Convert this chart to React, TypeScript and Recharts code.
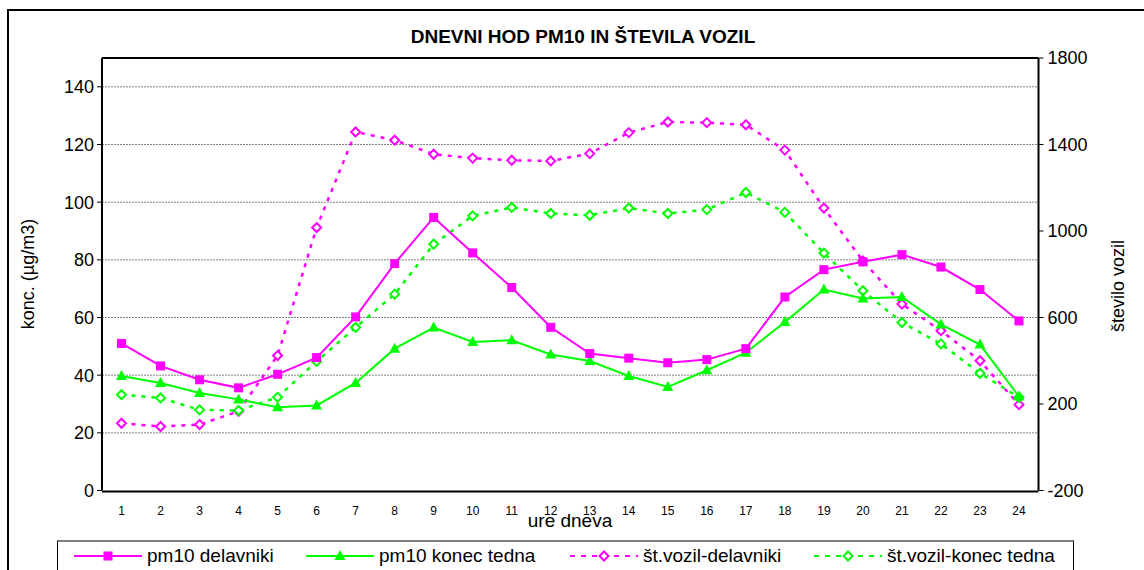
import { LineChart, Line, XAxis, YAxis, CartesianGrid } from "recharts";

const hours = [1, 2, 3, 4, 5, 6, 7, 8, 9, 10, 11, 12, 13, 14, 15, 16, 17, 18, 19, 20, 21, 22, 23, 24];
const pm10Workdays = [51, 43.2, 38.4, 35.6, 40.3, 46.1, 60.2, 78.7, 94.7, 82.4, 70.4, 56.6, 47.5, 45.9, 44.3, 45.4, 49.2, 67.1, 76.6, 79.3, 81.8, 77.5, 69.7, 58.8];
const pm10Weekend = [39.7, 37.3, 33.8, 31.6, 28.9, 29.5, 37.3, 49.2, 56.5, 51.5, 52.1, 47.2, 44.9, 39.7, 35.9, 41.7, 47.8, 58.4, 69.7, 66.6, 67.1, 57.6, 50.6, 32.6];
const carsWorkdays = [111, 96, 105, 166, 424, 1016, 1458, 1420, 1355, 1337, 1327, 1324, 1358, 1455, 1504, 1501, 1491, 1374, 1106, 862, 662, 539, 400, 197];
const carsWeekend = [243, 228, 173, 170, 231, 397, 554, 708, 939, 1070, 1109, 1081, 1073, 1106, 1081, 1099, 1178, 1086, 898, 724, 577, 478, 342, 231];

const leftTicks = [0, 20, 40, 60, 80, 100, 120, 140];
const rightTicks = [-200, 200, 600, 1000, 1400, 1800];
const boundaryTicks = [0.5, ...hours.map((h) => h + 0.5)];

const MAGENTA = "#ff00ff";
const GREEN = "#00ff00";
const FONT = "'Liberation Sans', Arial, sans-serif";

const data = hours.map((h, i) => ({
  hour: h,
  pm10Workdays: pm10Workdays[i],
  pm10Weekend: pm10Weekend[i],
  carsWorkdays: carsWorkdays[i],
  carsWeekend: carsWeekend[i],
}));

const squareDot = (p: any) => (
  <rect key={`sq-${p.index}`} x={p.cx - 4.5} y={p.cy - 4.5} width={9} height={9} fill={MAGENTA} />
);
const triangleDot = (p: any) => (
  <polygon key={`tr-${p.index}`} points={`${p.cx},${p.cy - 6} ${p.cx + 5.5},${p.cy + 4} ${p.cx - 5.5},${p.cy + 4}`} fill={GREEN} />
);
const diamondDot = (color: string) => (p: any) => (
  <polygon key={`dm-${color}-${p.index}`} points={`${p.cx},${p.cy - 4.5} ${p.cx + 4.5},${p.cy} ${p.cx},${p.cy + 4.5} ${p.cx - 4.5},${p.cy}`}
    fill="#fff" stroke={color} strokeWidth={2} />
);

function LegendIcon({ color, dashed, marker }: { color: string; dashed?: boolean; marker: string }) {
  return (
    <svg width={70} height={14} style={{ display: "block" }}>
      <line x1={1} y1={7} x2={69} y2={7} stroke={color} strokeWidth={2} strokeDasharray={dashed ? "5 6" : undefined} />
      {marker === "square" && <rect x={30.5} y={2.5} width={9} height={9} fill={color} />}
      {marker === "triangle" && <polygon points="35,1 40.5,11 29.5,11" fill={color} />}
      {marker === "diamond" && <polygon points="35,2.5 39.5,7 35,11.5 30.5,7" fill="#fff" stroke={color} strokeWidth={2} />}
    </svg>
  );
}

const legendItems = [
  { label: "pm10 delavniki", color: MAGENTA, marker: "square", left: 15 },
  { label: "pm10 konec tedna", color: GREEN, marker: "triangle", left: 247 },
  { label: "št.vozil-delavniki", color: MAGENTA, marker: "diamond", dashed: true, left: 511 },
  { label: "št.vozil-konec tedna", color: GREEN, marker: "diamond", dashed: true, left: 755 },
];

export default function App() {
  return (
    <div style={{ position: "absolute", left: 0, top: 0, width: 1144, height: 570, overflow: "hidden", background: "#fff", fontFamily: FONT }}>
      <div style={{ position: "absolute", left: 7, top: 9, width: 1200, height: 620, border: "2px solid #000" }} />
      <div style={{ position: "absolute", left: 0, top: 26, width: 1166, textAlign: "center", fontSize: 19, fontWeight: "bold" }}>
        DNEVNI HOD PM10 IN ŠTEVILA VOZIL
      </div>

      <div style={{ position: "absolute", left: 0, top: 0 }}>
        <LineChart width={1144} height={570} data={data} margin={{ top: 57, right: 25.5, bottom: 77.5, left: 32 }}>
          <CartesianGrid yAxisId="left" xAxisId="hours" vertical={false} horizontalValues={leftTicks.filter((t) => t > 0)}
            stroke="#808080" strokeDasharray="2 1" />
          <XAxis xAxisId="top" orientation="top" type="number" dataKey="hour" domain={[0.5, 24.5]} height={1}
            tick={false} tickLine={false} axisLine={{ stroke: "#000", strokeWidth: 2 }} />
          <XAxis xAxisId="hours" type="number" dataKey="hour" domain={[0.5, 24.5]} ticks={hours} height={1} interval={0}
            tickLine={false} tickSize={0} tickMargin={15} axisLine={{ stroke: "#000", strokeWidth: 2 }}
            tick={{ fontSize: 12, fill: "#000", fontFamily: FONT }} />
          <XAxis xAxisId="bounds" type="number" dataKey="hour" domain={[0.5, 24.5]} ticks={boundaryTicks} height={1}
            tick={false} tickSize={5} tickLine={{ stroke: "#000" }} axisLine={false} interval={0} />
          <YAxis yAxisId="left" domain={[0, 150]} ticks={leftTicks} width={70} interval={0}
            tickSize={5} tickMargin={3} axisLine={{ stroke: "#000", strokeWidth: 2 }} tickLine={{ stroke: "#000" }}
            tick={{ fontSize: 18, fill: "#000", fontFamily: FONT }} />
          <YAxis yAxisId="right" orientation="right" domain={[-200, 1800]} ticks={rightTicks} width={80} interval={0}
            tickSize={5} tickMargin={4} axisLine={{ stroke: "#000", strokeWidth: 2 }} tickLine={{ stroke: "#000" }}
            tick={{ fontSize: 18, fill: "#000", fontFamily: FONT }} />
          <Line xAxisId="hours" yAxisId="right" dataKey="carsWorkdays" stroke={MAGENTA} strokeWidth={2.5} strokeDasharray="4 6"
            dot={diamondDot(MAGENTA)} isAnimationActive={false} />
          <Line xAxisId="hours" yAxisId="right" dataKey="carsWeekend" stroke={GREEN} strokeWidth={2.5} strokeDasharray="4 6"
            dot={diamondDot(GREEN)} isAnimationActive={false} />
          <Line xAxisId="hours" yAxisId="left" dataKey="pm10Weekend" stroke={GREEN} strokeWidth={2}
            dot={triangleDot} isAnimationActive={false} />
          <Line xAxisId="hours" yAxisId="left" dataKey="pm10Workdays" stroke={MAGENTA} strokeWidth={2}
            dot={squareDot} isAnimationActive={false} />
        </LineChart>
      </div>

      <div style={{ position: "absolute", left: 28, top: 274, transform: "translate(-50%, -50%) rotate(-90deg)", fontSize: 18, whiteSpace: "nowrap" }}>
        konc. (µg/m3)
      </div>
      <div style={{ position: "absolute", left: 1118, top: 286, transform: "translate(-50%, -50%) rotate(-90deg)", fontSize: 18, whiteSpace: "nowrap" }}>
        število vozil
      </div>
      <div style={{ position: "absolute", left: 570, top: 521, transform: "translate(-50%, -50%)", fontSize: 19, whiteSpace: "nowrap" }}>
        ure dneva
      </div>

      <div style={{ position: "absolute", left: 57, top: 540, width: 1015, height: 28, border: "1px solid #000", borderTop: "2px solid #808080", background: "#fff" }}>
        {legendItems.map((it) => (
          <div key={it.label} style={{ position: "absolute", left: it.left, top: 0, height: 28, display: "flex", alignItems: "center", fontSize: 19, whiteSpace: "nowrap" }}>
            <LegendIcon color={it.color} dashed={it.dashed} marker={it.marker} />
            <span style={{ marginLeft: 4 }}>{it.label}</span>
          </div>
        ))}
      </div>
    </div>
  );
}
